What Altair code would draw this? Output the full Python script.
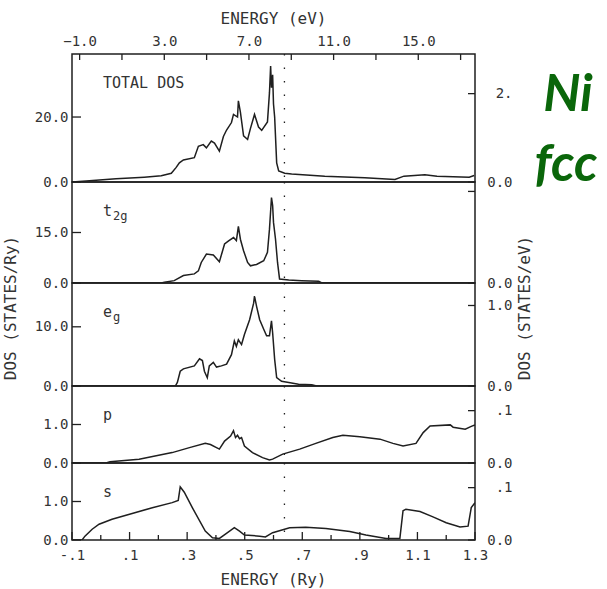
import altair as alt
import pandas as pd

# ---------------- data ----------------
RY_TO_EV = 13.6
X_DOMAIN = [-0.1, 1.3]
E_FERMI_RY = 0.638

total_ry = [-0.100, -0.051, 0.053, 0.151, 0.210, 0.245, 0.262, 0.273, 0.287, 0.325, 0.339, 0.356,
            0.367, 0.384, 0.395, 0.412, 0.426, 0.437, 0.454, 0.461, 0.475, 0.478, 0.485, 0.496,
            0.510, 0.520, 0.534, 0.548, 0.559, 0.579, 0.586, 0.590, 0.593, 0.597, 0.600, 0.604,
            0.611, 0.618, 0.639, 0.663, 0.778, 0.917, 1.022, 1.053, 1.126, 1.168, 1.280, 1.297]
total_dos = [0.0, 0.3, 1.0, 1.5, 1.9, 2.7, 4.5, 5.9, 6.8, 7.5, 11.0, 11.5,
             10.5, 12.6, 12.0, 9.5, 14.0, 16.0, 18.3, 20.8, 20.0, 25.0, 21.5, 14.2,
             13.1, 16.5, 20.8, 16.9, 15.9, 18.5, 27.5, 35.7, 29.0, 33.0, 24.0, 20.0,
             5.9, 3.4, 2.7, 2.5, 1.8, 1.3, 0.8, 1.8, 2.2, 1.8, 1.5, 2.0]

t2g_ry = [-0.100, 0.210, 0.221, 0.255, 0.287, 0.325, 0.339, 0.349, 0.367, 0.391, 0.412, 0.430,
          0.444, 0.461, 0.471, 0.478, 0.485, 0.496, 0.510, 0.520, 0.541, 0.566, 0.579, 0.586,
          0.593, 0.597, 0.600, 0.607, 0.614, 0.621, 0.653, 0.698, 0.757, 0.768, 1.300]
t2g_dos = [0.0, 0.0, 0.2, 0.7, 2.2, 2.7, 3.6, 6.1, 8.6, 8.3, 6.3, 11.6,
           12.5, 13.5, 12.6, 16.8, 13.0, 9.6, 6.1, 5.1, 5.5, 6.6, 9.1, 16.0,
           25.4, 23.0, 18.0, 13.0, 6.1, 1.2, 0.9, 0.7, 0.5, 0.05, 0.0]

eg_ry = [-0.100, 0.259, 0.266, 0.276, 0.287, 0.325, 0.343, 0.353, 0.360, 0.370, 0.377, 0.391,
         0.402, 0.419, 0.437, 0.454, 0.464, 0.471, 0.478, 0.489, 0.499, 0.517, 0.531, 0.534,
         0.541, 0.552, 0.566, 0.576, 0.586, 0.593, 0.597, 0.604, 0.611, 0.628, 0.653, 0.687,
         0.733, 0.750, 1.300]
eg_dos = [0.0, 0.0, 0.6, 2.5, 2.9, 3.4, 4.6, 4.3, 2.5, 1.4, 3.4, 4.0,
          3.2, 3.4, 3.7, 5.3, 7.6, 6.7, 7.8, 7.0, 8.7, 11.2, 14.0, 15.2,
          13.5, 11.2, 9.6, 8.5, 8.5, 11.0, 9.0, 4.5, 1.4, 0.8, 0.6, 0.3,
          0.2, 0.0, 0.0]

p_ry = [-0.100, 0.018, 0.032, 0.133, 0.248, 0.308, 0.363, 0.381, 0.412, 0.430, 0.451, 0.461,
        0.468, 0.475, 0.482, 0.489, 0.499, 0.527, 0.562, 0.586, 0.597, 0.632, 0.691, 0.747,
        0.806, 0.841, 0.900, 0.970, 1.015, 1.050, 1.095, 1.120, 1.144, 1.214, 1.224, 1.266,
        1.287, 1.300]
p_dos = [0.0, 0.0, 0.03, 0.10, 0.27, 0.40, 0.51, 0.48, 0.36, 0.57, 0.70, 0.84,
         0.66, 0.72, 0.63, 0.66, 0.44, 0.27, 0.14, 0.08, 0.10, 0.23, 0.36, 0.51,
         0.66, 0.72, 0.68, 0.62, 0.51, 0.44, 0.51, 0.79, 0.96, 0.99, 0.93, 0.88,
         0.95, 0.99]

s_ry = [-0.100, -0.065, -0.055, -0.030, -0.006, 0.039, 0.109, 0.179, 0.248, 0.269, 0.276, 0.290,
        0.318, 0.363, 0.388, 0.412, 0.433, 0.464, 0.482, 0.499, 0.552, 0.572, 0.597, 0.656,
        0.712, 0.782, 0.865, 0.921, 0.991, 1.039, 1.050, 1.060, 1.109, 1.154, 1.200, 1.248,
        1.276, 1.287, 1.300]
s_dos = [0.0, 0.0, 0.10, 0.28, 0.41, 0.54, 0.69, 0.84, 0.97, 1.03, 1.38, 1.24,
         0.84, 0.23, 0.06, 0.04, 0.15, 0.32, 0.23, 0.13, 0.10, 0.08, 0.19, 0.32,
         0.33, 0.30, 0.22, 0.13, 0.04, 0.04, 0.76, 0.80, 0.74, 0.60, 0.45, 0.34,
         0.36, 0.84, 0.97]

# axis tick values
ry_major = [-0.1, 0.1, 0.3, 0.5, 0.7, 0.9, 1.1, 1.3]
ry_minor = [0.0, 0.2, 0.4, 0.6, 0.8, 1.0, 1.2]
ev_ticks = [-1, 1, 3, 5, 7, 9, 11, 13, 15, 17]
ev_labels = [-1, 3, 7, 11, 15]

panel_names = ["TOTAL  DOS", "t", "e", "p", "s"]
panel_subs = ["", "2g", "g", "", ""]
panel_series = [(total_ry, total_dos), (t2g_ry, t2g_dos), (eg_ry, eg_dos), (p_ry, p_dos), (s_ry, s_dos)]
panel_ymax = [39.4, 30.0, 17.4, 2.0, 2.0]           # states/Ry
panel_heights = [128, 101, 103, 77, 77]
left_ticks = [[0, 20], [0, 15], [0, 10], [0, 1], [0, 1]]          # states/Ry
right_ticks = [[0, 2], [0, 2], [0, 1], [0, 0.1], [0, 0.1]]        # states/eV
right_labeled = [[0, 2], [0], [0, 1], [0, 0.1], [0, 0.1]]

# ---------------- style ----------------
W = 403
FONT = "DejaVu Sans Mono"
INK = "#1f1f1f"
TXT = "#333333"
GREEN = "#0a660a"

one = pd.DataFrame({"k": [0]})


def xscale():
    return alt.Scale(domain=X_DOMAIN, nice=False, zero=False)


def right_label_expr(i):
    if i == 0:
        return "datum.value == 0 ? '0.0' : '2.\u00a0'"
    if i in (3, 4):
        return "datum.value == 0 ? '0.0' : '.1'"
    return "format(datum.value, '.1f')"


def make_panel(i):
    h = panel_heights[i]
    ymax = panel_ymax[i]
    ry, dos = panel_series[i]
    yscale = alt.Scale(domain=[0, ymax], nice=False, zero=False)
    layers = []

    df = pd.DataFrame({"ry": ry, "dos": dos})
    layers.append(
        alt.Chart(df).mark_line(color=INK, strokeWidth=1.5, clip=True).encode(
            x=alt.X("ry:Q", scale=xscale(), axis=None),
            y=alt.Y("dos:Q", scale=yscale, axis=None),
        )
    )
    # Fermi level (dotted)
    layers.append(
        alt.Chart(pd.DataFrame({"ef": [E_FERMI_RY]})).mark_rule(
            color=INK, strokeWidth=1.3, strokeDash=[1.5, 12]
        ).encode(x=alt.X("ef:Q", scale=xscale(), axis=None))
    )
    # left ticks (inward) + left axis labels
    layers.append(
        alt.Chart(pd.DataFrame({"v": left_ticks[i]})).mark_rule(color=INK, strokeWidth=1.3).encode(
            x=alt.value(0), x2=alt.value(9),
            y=alt.Y("v:Q", scale=yscale,
                    axis=alt.Axis(orient="left", values=left_ticks[i], labelExpr="format(datum.value, '.1f')",
                                  ticks=False, domain=False, grid=False, title=None, labelPadding=4,
                                  labelFlush=False, labelOverlap=False)),
        )
    )
    # right ticks (inward) + right axis in states/eV
    layers.append(
        alt.Chart(pd.DataFrame({"v": right_ticks[i]})).mark_rule(color=INK, strokeWidth=1.3).encode(
            x=alt.value(W - 7), x2=alt.value(W),
            y=alt.Y("v:Q", scale=alt.Scale(domain=[0, ymax / RY_TO_EV], nice=False, zero=False),
                    axis=alt.Axis(orient="right", values=right_labeled[i], labelExpr=right_label_expr(i),
                                  ticks=False, domain=False, grid=False, title=None, labelPadding=37,
                                  labelAlign="right", labelFlush=False, labelOverlap=False)),
        )
    )
    # panel label
    layers.append(
        alt.Chart(one).mark_text(align="left", baseline="alphabetic", font=FONT, fontSize=15, color=TXT).encode(
            x=alt.value(31), y=alt.value(34), text=alt.value(panel_names[i])
        )
    )
    if panel_subs[i]:
        layers.append(
            alt.Chart(one).mark_text(align="left", baseline="alphabetic", font=FONT, fontSize=12, color=TXT).encode(
                x=alt.value(41), y=alt.value(38), text=alt.value(panel_subs[i])
            )
        )

    if i == 0:
        # top eV axis with inward ticks
        layers.append(
            alt.Chart(pd.DataFrame({"ev": ev_ticks})).mark_rule(color=INK, strokeWidth=1.3).encode(
                x=alt.X("ev:Q",
                        scale=alt.Scale(domain=[X_DOMAIN[0] * RY_TO_EV, X_DOMAIN[1] * RY_TO_EV], nice=False, zero=False),
                        axis=alt.Axis(orient="top", values=ev_labels, labelExpr="format(datum.value, '.1f')",
                                      ticks=False, domain=False, grid=False, title=None, labelPadding=6,
                                      labelFlush=False, labelOverlap=False)),
                y=alt.value(0), y2=alt.value(6),
            )
        )
        # titles and annotations
        layers.append(
            alt.Chart(one).mark_text(align="center", baseline="middle", font=FONT, fontSize=16, color=TXT).encode(
                x=alt.value(W / 2), y=alt.value(-35), text=alt.value("ENERGY  (eV)")
            )
        )
        layers.append(
            alt.Chart(one).mark_text(align="center", baseline="middle", font=FONT, fontSize=16, color=TXT,
                                     angle=270).encode(
                x=alt.value(-61), y=alt.value(254), text=alt.value("DOS  (STATES/Ry)")
            )
        )
        layers.append(
            alt.Chart(one).mark_text(align="center", baseline="middle", font=FONT, fontSize=16, color=TXT,
                                     angle=270).encode(
                x=alt.value(453), y=alt.value(254), text=alt.value("DOS  (STATES/eV)")
            )
        )
        layers.append(
            alt.Chart(one).mark_text(align="center", baseline="alphabetic", font="Lato", fontSize=52,
                                     fontWeight="bold", fontStyle="italic", color=GREEN).encode(
                x=alt.value(496), y=alt.value(57), text=alt.value("Ni")
            )
        )
        layers.append(
            alt.Chart(one).mark_text(align="center", baseline="alphabetic", font="Lato", fontSize=52,
                                     fontWeight="bold", fontStyle="italic", color=GREEN).encode(
                x=alt.value(494), y=alt.value(127), text=alt.value("fcc")
            )
        )
        # invisible anchor fixing the page origin
        layers.append(
            alt.Chart(one).mark_rule(color="white", opacity=0, strokeWidth=1).encode(
                x=alt.value(-71), x2=alt.value(-70), y=alt.value(-53)
            )
        )

    if i == 4:
        x_axis = alt.Axis(orient="bottom", values=ry_major,
                          labelExpr="datum.value >= 1 ? format(datum.value, '.1f') : "
                                    "(datum.value < 0 ? '-.' : '.') + format(abs(datum.value) * 10, '.0f')",
                          ticks=False, domain=False, grid=False, title=None, labelPadding=8,
                          labelFlush=False, labelOverlap=False)
        layers.append(
            alt.Chart(pd.DataFrame({"v": ry_major})).mark_rule(color=INK, strokeWidth=1.3).encode(
                x=alt.X("v:Q", scale=xscale(), axis=x_axis),
                y=alt.value(h), y2=alt.value(h - 8),
            )
        )
        layers.append(
            alt.Chart(pd.DataFrame({"v": ry_minor})).mark_rule(color=INK, strokeWidth=1.3).encode(
                x=alt.X("v:Q", scale=xscale(), axis=None),
                y=alt.value(h), y2=alt.value(h - 5),
            )
        )
        layers.append(
            alt.Chart(one).mark_text(align="center", baseline="middle", font=FONT, fontSize=16, color=TXT).encode(
                x=alt.value(W / 2), y=alt.value(117), text=alt.value("ENERGY  (Ry)")
            )
        )

    return alt.layer(*layers).resolve_scale(x="independent", y="independent").properties(width=W, height=h)


chart = (
    alt.vconcat(*[make_panel(i) for i in range(5)], spacing=0, bounds="flush")
    .properties(padding={"left": 0, "top": 0, "right": 0, "bottom": 0}, background="white")
    .configure_view(stroke=INK, strokeWidth=1.5)
    .configure_axis(labelFont=FONT, labelFontSize=14, labelColor=TXT, grid=False)
)

chart.save("out.html", embed_options={"renderer": "svg", "actions": False})
